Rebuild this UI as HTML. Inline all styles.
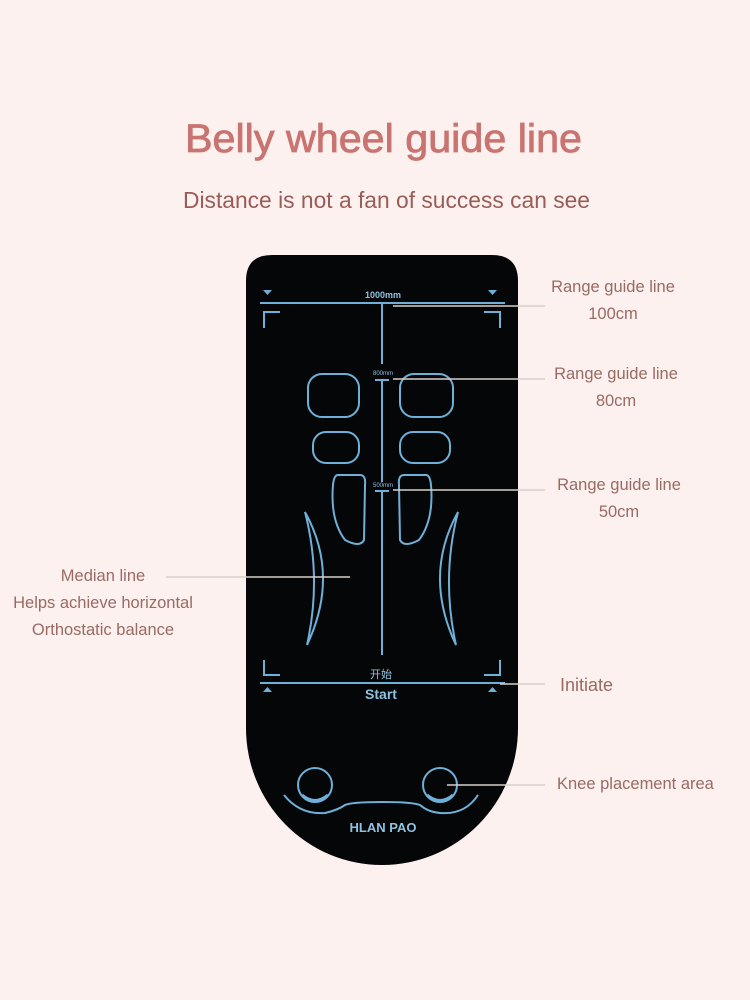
<!DOCTYPE html>
<html><head><meta charset="utf-8"><style>
html,body{margin:0;padding:0;background:#fcf1ee;}
svg{display:block;}
</style></head><body>
<svg width="750" height="1000" viewBox="0 0 750 1000" xmlns="http://www.w3.org/2000/svg" font-family="Liberation Sans, sans-serif">
<rect width="750" height="1000" fill="#fcf1ee"/>
<text x="185" y="152" font-size="40" fill="#c97471" stroke="#c97471" stroke-width="0.8" textLength="397" lengthAdjust="spacingAndGlyphs">Belly wheel guide line</text>
<text x="183" y="208" font-size="23" fill="#9a5c57" textLength="407" lengthAdjust="spacingAndGlyphs">Distance is not a fan of success can see</text>

<!-- mat -->
<path d="M272 255 H492 Q518 255 518 281 V728 A136 137 0 0 1 246 728 V281 Q246 255 272 255 Z" fill="#050607"/>

<g stroke="#6fb0d8" fill="none" stroke-width="2">
<line x1="260" y1="303" x2="505" y2="303"/>
<line x1="382" y1="303" x2="382" y2="364"/>
<line x1="382" y1="380" x2="382" y2="482"/>
<line x1="382" y1="491" x2="382" y2="655"/>
<line x1="375" y1="380" x2="389" y2="380"/>
<line x1="375" y1="491" x2="389" y2="491"/>
<path d="M264 328 V312 H280"/>
<path d="M500 328 V312 H484"/>
<path d="M264 660 V675 H280"/>
<path d="M500 660 V675 H484"/>
<line x1="260" y1="683" x2="505" y2="683"/>
<rect x="308" y="374" width="51" height="43" rx="14"/>
<rect x="400" y="374" width="53" height="43" rx="14"/>
<rect x="313" y="432" width="46" height="31" rx="13"/>
<rect x="400" y="432" width="50" height="31" rx="13"/>
<path d="M338 475 H360 Q366 475 365 485 L364 540 Q360 548 345 540 Q330 520 333 485 Q334 475 338 475 Z"/>
<path d="M426 475 H404 Q398 475 399 485 L400 540 Q404 548 419 540 Q434 520 431 485 Q430 475 426 475 Z"/>
<path d="M305 512 Q340 575 307 645 Q322 578 305 512 Z"/>
<path d="M458 512 Q423 575 456 645 Q441 578 458 512 Z"/>
<circle cx="315" cy="785" r="17"/>
<circle cx="440" cy="785" r="17"/>
<path d="M284 795 Q300 815 325 813 Q338 810 345 805 Q352 802 383 802 Q412 802 420 805 Q428 812 440 813 Q465 815 478 795"/>
</g>
<g stroke="#6fb0d8" fill="none" stroke-width="3">
<path d="M302 795 Q315 806 328 795"/>
<path d="M427 795 Q440 806 453 795"/>
</g>
<g fill="#6fb0d8">
<path d="M263 290 h9 l-4.5 5 z"/><path d="M488 290 h9 l-4.5 5 z"/>
<path d="M263 692 h9 l-4.5 -5 z"/><path d="M488 692 h9 l-4.5 -5 z"/>
</g>
<text x="383" y="298" font-size="9" font-weight="bold" fill="#8fc2e0" text-anchor="middle">1000mm</text>
<text x="383" y="375" font-size="6" fill="#8fc2e0" text-anchor="middle">800mm</text>
<text x="383" y="487" font-size="6" fill="#8fc2e0" text-anchor="middle">500mm</text>
<text x="381" y="678" font-size="11" fill="#8fc2e0" text-anchor="middle" font-family="Liberation Sans, Noto Sans CJK SC, sans-serif">开始</text>
<text x="381" y="699" font-size="14" font-weight="bold" fill="#8fc2e0" text-anchor="middle">Start</text>
<text x="383" y="832" font-size="13" font-weight="bold" fill="#8fc2e0" text-anchor="middle">HLAN PAO</text>

<!-- leaders -->
<g stroke="#d8cfcc" stroke-width="1.5">
<line x1="393" y1="306" x2="545" y2="306"/>
<line x1="393" y1="379" x2="545" y2="379"/>
<line x1="393" y1="490" x2="545" y2="490"/>
<line x1="166" y1="577" x2="350" y2="577"/>
<line x1="500" y1="684" x2="545" y2="684"/>
<line x1="447" y1="785" x2="545" y2="785"/>
</g>
<g font-size="16.5" fill="#9a6a64" text-anchor="middle">
<text x="613" y="292">Range guide line</text>
<text x="613" y="319">100cm</text>
<text x="616" y="379">Range guide line</text>
<text x="616" y="406">80cm</text>
<text x="619" y="490">Range guide line</text>
<text x="619" y="517">50cm</text>
<text x="103" y="581">Median line</text>
<text x="103" y="608">Helps achieve horizontal</text>
<text x="103" y="635">Orthostatic balance</text>
<text x="560" y="691" text-anchor="start" font-size="18">Initiate</text>
<text x="557" y="789" text-anchor="start">Knee placement area</text>
</g>
</svg>
</body></html>
